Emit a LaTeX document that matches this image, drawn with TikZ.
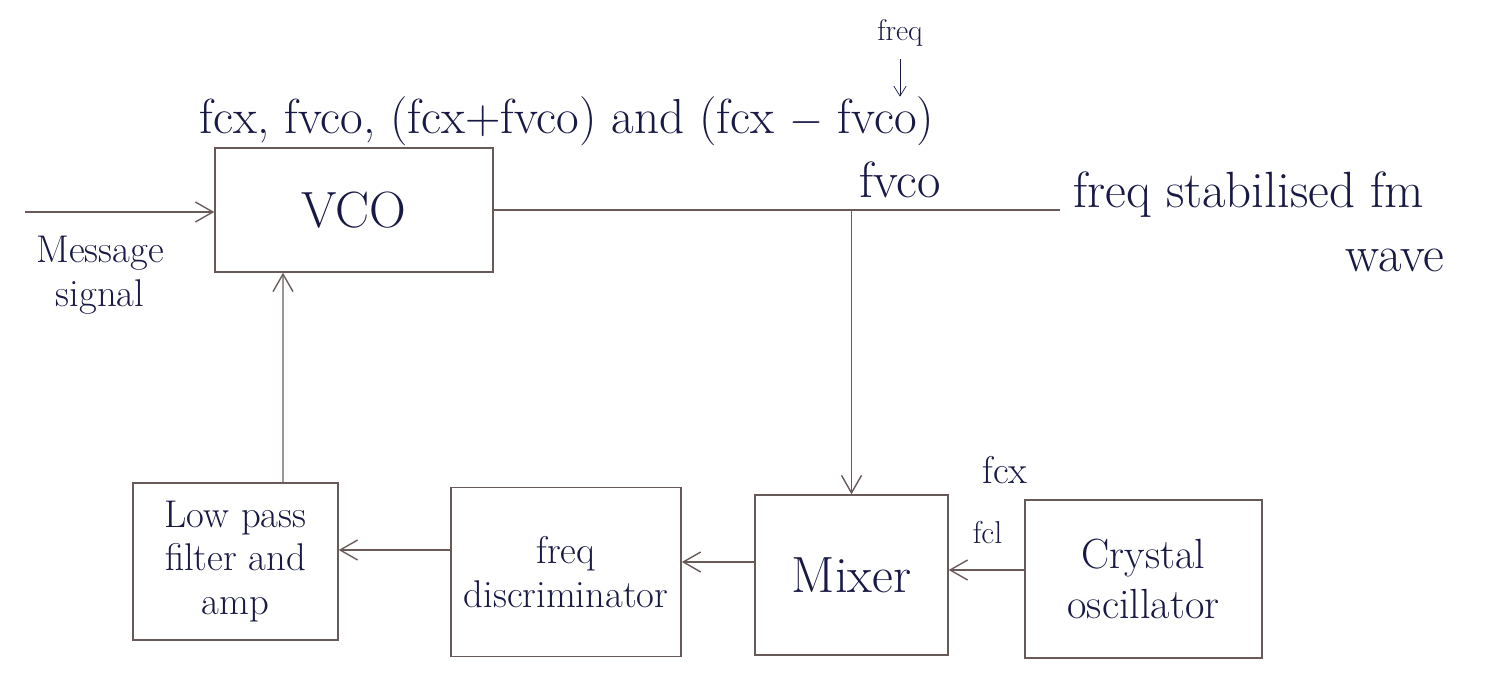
\documentclass[tikz,border=0pt]{standalone}
\usetikzlibrary{arrows.meta}
\definecolor{ink}{RGB}{25,25,70}
\definecolor{pencil}{RGB}{105,90,90}
\begin{document}
\begin{tikzpicture}[>={Straight Barb[length=3.5mm,width=4mm]},
    block/.style={draw=pencil, thick, rectangle, align=center, text=ink},
    wire/.style={draw=pencil, thick},
    lbl/.style={text=ink, align=center},
    big/.style={font=\fontsize{29}{32}\selectfont}]
        \fontsize{22}{25}\selectfont
        \useasboundingbox (0,0) rectangle (29.78,13.5);
        % Blocks
        \node[block, big, minimum width=5.56cm, minimum height=2.48cm] (vco) at (7.08,9.3) {VCO};
        \node[block, minimum width=4.1cm, minimum height=3.14cm] (lpf) at (4.71,2.27) {Low pass\\filter and\\amp};
        \node[block, minimum width=3.84cm, minimum height=3.38cm] (disc) at (11.32,2.06) {freq\\discriminator};
        \node[block, big, minimum width=3.86cm, minimum height=3.2cm] (mix) at (17.03,2.0) {Mixer};
        \node[block, font=\fontsize{24}{28}\selectfont, minimum width=4.74cm, minimum height=3.16cm] (xtal) at (22.87,1.92) {Crystal\\oscillator};

        % Free ends
        \coordinate (msg) at (0.5,9.26);
        \coordinate (out) at (21.2,9.3);
        \coordinate (tap) at (mix.north |- out);

        % Connectors
        \draw[wire, ->] (msg) -- (msg -| vco.west);
        \draw[wire] (vco.east |- out) -- (out);
        \draw[wire, ->] (tap) -- (mix.north);
        \draw[wire, ->] (xtal.west |- 0,2.1) -- (mix.east |- 0,2.1);
        \draw[wire, ->] (mix.west |- 0,2.26) -- (disc.east |- 0,2.26);
        \draw[wire, ->] (disc.west |- 0,2.5) -- (lpf.east |- 0,2.5);
        \draw[wire, ->] ([xshift=0.95cm]lpf.north) -- ([xshift=-1.42cm]vco.south);

        % Labels
        \node[lbl, font=\fontsize{28}{30}\selectfont] (sum) at (11.34,11.08) {fcx, fvco, (fcx+fvco) and (fcx $-$ fvco)};
        \node[lbl, font=\fontsize{17}{19}\selectfont] (fq) at (18.0,12.85) {freq};
        \draw[ink, ->, >={Straight Barb[length=2mm,width=2.5mm]}] (fq.south) -- ++(0,-0.75);
        \node[lbl, big] (fv) at (18.0,9.9) {fvco};
        \node[lbl, big, anchor=west] (fm) at (21.2,9.6) {freq stabilised fm};
        \node[lbl, big] (wave) at (27.9,8.3) {wave};
        \node[lbl] (msgl) at (2.0,8.0) {Message\\signal};
        \node[lbl] (fcx) at (20.1,4.1) {fcx};
        \node[lbl, font=\fontsize{18}{20}\selectfont] (fcl) at (19.75,2.85) {fcl};
    \end{tikzpicture}
\end{document}
